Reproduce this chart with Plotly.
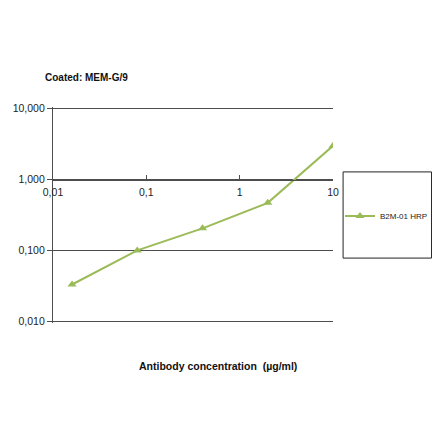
import plotly.graph_objects as go

# antibody dilution series and signal
conc = [0.016, 0.08, 0.4, 2, 10]
signal = [0.033, 0.1, 0.205, 0.47, 3.0]

y_ticks = [10, 1, 0.1, 0.01]
y_labels = ['10,000', '1,000', '0,100', '0,010']
x_ticks = [0.01, 0.1, 1, 10]
x_labels = ['0,01', '0,1', '1', '10']

green = '#9bbb59'
axis_col = '#4d4d4d'

# page body keeps its 8px margin, so size the figure to fit inside the window
W, H = 424, 425

trace = go.Scatter(x=conc, y=signal, mode='lines+markers', name='B2M-01 HRP',
                   line=dict(color=green, width=2),
                   marker=dict(symbol='triangle-up', size=8, color=green))

fig = go.Figure(data=[trace])

fig.update_layout(
    width=W, height=H,
    margin=dict(l=45, r=99, t=99, b=110, autoexpand=False),
    paper_bgcolor='white', plot_bgcolor='white',
    font=dict(family='Liberation Sans, Arial, sans-serif', size=10.5, color='#222'),
    title=dict(text='<b>Coated: MEM-G/9</b>', xref='container', x=37 / W, xanchor='left',
               yref='container', y=1 - 69 / H, yanchor='middle',
               font=dict(size=10, color='#111')),
    showlegend=True,
    legend=dict(xref='container', yref='container', x=332 / W, y=1 - 208 / H,
                xanchor='left', yanchor='middle', font=dict(size=8),
                bgcolor='rgba(0,0,0,0)', borderwidth=0),
    shapes=[dict(type='rect', xref='paper', yref='paper', x0=1.036, x1=1.352,
                 y0=0.3005, y1=0.6995, line=dict(color='#222', width=1))],
    annotations=[dict(text='<b>Antibody concentration  (µg/ml)</b>', xref='paper',
                      yref='paper', x=0.59, y=-0.2, yanchor='middle', showarrow=False,
                      font=dict(size=10.5, color='#111'))],
)

fig.update_xaxes(type='log', range=[-2, 1], anchor='free', position=0.664,
                 tickvals=x_ticks, ticktext=x_labels, ticks='inside', ticklen=4,
                 ticklabelstandoff=3,
                 tickcolor=axis_col, showline=True, linecolor=axis_col, linewidth=1.2,
                 showgrid=False, zeroline=False)
fig.update_yaxes(type='log', range=[-2.025, 1.025], tickvals=y_ticks, ticktext=y_labels,
                 ticks='outside', ticklen=5, tickcolor=axis_col, showline=True,
                 linecolor=axis_col, linewidth=1.2, showgrid=True, gridcolor=axis_col,
                 gridwidth=1.2, zeroline=False)

fig.write_html('out.html')
